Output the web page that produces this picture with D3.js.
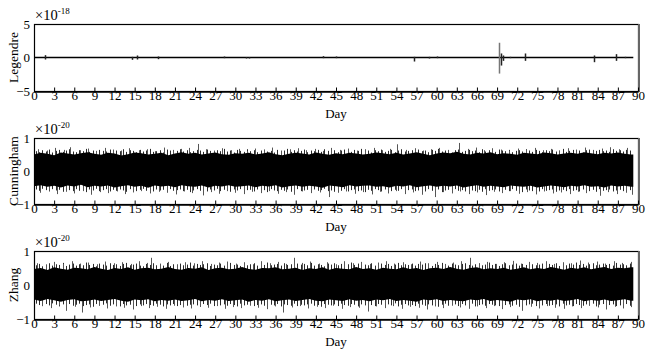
<!DOCTYPE html>
<html>
<head>
<meta charset="utf-8">
<script src="https://cdn.jsdelivr.net/npm/d3@7"></script>
<style>
    body { margin: 0; background: #fff; }
    svg text { font-family: "Liberation Serif", "Times New Roman", serif; fill: #000; }
</style>
</head>
<body>
<div id="chart"></div>
<script>
// --- 1. DATA ---
const xTicks = d3.range(0, 91, 3);
const lastDay = 89.3;
const fringeStep = 0.5;   // fringe samples every half day, starting at 0.25

// Legendre: flat zero line with a few blips [day, high, low] (x 1e-18)
const legendreEvents = [
    [1.7, 0.35, -0.3], [14.6, 0.1, -0.35], [15.3, 0.3, -0.3], [18.5, 0.15, -0.25],
    [28.3, 0.15, -0.1], [31.6, 0.05, -0.15], [32.1, 0.05, -0.15], [43.0, 0.2, -0.1],
    [45.0, 0.15, -0.1], [56.6, 0.1, -0.6], [58.8, 0.1, -0.15], [60.0, 0.15, -0.1],
    [69.3, 2.2, -2.4], [69.6, 0.6, -1.2], [69.9, 0.3, -0.5], [70.9, 0.1, -0.1],
    [73.2, 0.6, -0.5], [83.4, 0.3, -0.7], [86.7, 0.5, -0.5], [88.1, 0.1, -0.1]
];

// Cunningham: daily envelope of the noise band (x 1e-20)
const cunUpper = [0.50,0.55,0.52,0.48,0.56,0.53,0.50,0.54,0.57,0.52,
    0.49,0.55,0.53,0.47,0.51,0.56,0.54,0.50,0.52,0.55,
    0.48,0.53,0.57,0.52,0.55,0.50,0.53,0.56,0.51,0.49,
    0.54,0.52,0.55,0.50,0.53,0.57,0.51,0.48,0.52,0.55,
    0.53,0.50,0.56,0.52,0.49,0.54,0.51,0.55,0.53,0.50,
    0.52,0.56,0.54,0.51,0.55,0.50,0.53,0.57,0.52,0.48,
    0.53,0.56,0.54,0.58,0.52,0.50,0.55,0.53,0.57,0.51,
    0.54,0.52,0.49,0.55,0.53,0.51,0.56,0.54,0.50,0.53,
    0.55,0.52,0.57,0.54,0.51,0.55,0.53,0.56,0.52,0.50];
const cunLower = [-0.46,-0.43,-0.48,-0.45,-0.50,-0.44,-0.47,-0.42,-0.49,-0.45,
    -0.47,-0.44,-0.50,-0.46,-0.43,-0.48,-0.45,-0.51,-0.44,-0.47,
    -0.45,-0.49,-0.43,-0.46,-0.48,-0.44,-0.50,-0.45,-0.47,-0.43,
    -0.48,-0.46,-0.44,-0.49,-0.45,-0.47,-0.43,-0.50,-0.46,-0.44,
    -0.48,-0.45,-0.47,-0.51,-0.44,-0.46,-0.49,-0.43,-0.47,-0.45,
    -0.44,-0.48,-0.46,-0.50,-0.45,-0.47,-0.43,-0.49,-0.46,-0.44,
    -0.48,-0.45,-0.47,-0.44,-0.50,-0.46,-0.43,-0.48,-0.45,-0.47,
    -0.49,-0.44,-0.46,-0.48,-0.45,-0.50,-0.47,-0.44,-0.46,-0.49,
    -0.45,-0.47,-0.43,-0.48,-0.46,-0.50,-0.44,-0.47,-0.45,-0.48];
const cunFringeUp = [0.60,0.57,0.63,0.59,0.65,0.56,0.61,0.64,0.58,0.62,
    0.66,0.59,0.57,0.63,0.60,0.67,0.58,0.62,0.56,0.64,
    0.61,0.59,0.65,0.57,0.62,0.60,0.66,0.58,0.63,0.61,
    0.57,0.64,0.59,0.62,0.67,0.58,0.60,0.63,0.56,0.65,
    0.62,0.58,0.61,0.66,0.59,0.63,0.57,0.60,0.64,0.62,
    0.58,0.65,0.61,0.57,0.63,0.60,0.67,0.59,0.62,0.56,
    0.64,0.61,0.58,0.66,0.60,0.63,0.57,0.62,0.65,0.59,
    0.61,0.56,0.64,0.60,0.62,0.67,0.58,0.63,0.59,0.61,
    0.65,0.57,0.62,0.60,0.64,0.58,0.66,0.61,0.59,0.63,
    0.57,0.62,0.65,0.60,0.58,0.64,0.61,0.67,0.59,0.62,
    0.56,0.63,0.60,0.65,0.58,0.61,0.64,0.57,0.62,0.66,
    0.59,0.61,0.63,0.58,0.65,0.60,0.62,0.57,0.64,0.61,
    0.67,0.59,0.62,0.60,0.56,0.63,0.65,0.58,0.61,0.64,
    0.60,0.62,0.57,0.66,0.59,0.63,0.61,0.58,0.65,0.62,
    0.60,0.64,0.57,0.61,0.63,0.59,0.66,0.62,0.58,0.64,
    0.61,0.57,0.63,0.60,0.65,0.59,0.62,0.67,0.58,0.61,
    0.64,0.60,0.62,0.56,0.63,0.65,0.59,0.61,0.64,0.60,
    0.62,0.58,0.66,0.61,0.63,0.59,0.64,0.62];
const cunFringeDown = [-0.56,-0.60,-0.54,-0.58,-0.62,-0.55,-0.59,-0.57,-0.63,-0.56,
    -0.58,-0.61,-0.55,-0.60,-0.57,-0.64,-0.56,-0.59,-0.54,-0.61,
    -0.58,-0.55,-0.62,-0.57,-0.60,-0.56,-0.59,-0.63,-0.55,-0.58,
    -0.61,-0.57,-0.54,-0.60,-0.58,-0.62,-0.56,-0.59,-0.57,-0.63,
    -0.55,-0.60,-0.58,-0.56,-0.61,-0.57,-0.64,-0.59,-0.55,-0.60,
    -0.58,-0.62,-0.56,-0.59,-0.54,-0.61,-0.57,-0.60,-0.63,-0.56,
    -0.59,-0.55,-0.61,-0.58,-0.57,-0.62,-0.56,-0.60,-0.58,-0.64,
    -0.55,-0.59,-0.61,-0.57,-0.60,-0.56,-0.63,-0.58,-0.55,-0.61,
    -0.59,-0.57,-0.62,-0.56,-0.60,-0.58,-0.54,-0.61,-0.59,-0.63,
    -0.57,-0.60,-0.55,-0.62,-0.58,-0.56,-0.61,-0.59,-0.64,-0.57,
    -0.60,-0.55,-0.58,-0.62,-0.56,-0.59,-0.61,-0.57,-0.60,-0.55,
    -0.63,-0.58,-0.56,-0.61,-0.59,-0.57,-0.62,-0.55,-0.60,-0.58,
    -0.56,-0.64,-0.59,-0.57,-0.61,-0.55,-0.60,-0.58,-0.62,-0.56,
    -0.59,-0.61,-0.57,-0.63,-0.55,-0.60,-0.58,-0.56,-0.62,-0.59,
    -0.57,-0.61,-0.55,-0.60,-0.58,-0.64,-0.56,-0.59,-0.61,-0.57,
    -0.62,-0.55,-0.60,-0.58,-0.56,-0.63,-0.59,-0.57,-0.61,-0.55,
    -0.60,-0.58,-0.62,-0.56,-0.59,-0.61,-0.57,-0.63,-0.55,-0.60,
    -0.58,-0.56,-0.62,-0.59,-0.57,-0.61,-0.60,-0.58];
const cunSpikes = [
    [0.6,0.66],[1.9,0.62],[3.2,0.70],[4.5,0.64],[5.4,0.72],[6.8,0.63],[8.1,0.68],[9.3,0.61],
    [10.6,0.70],[11.8,0.65],[13.0,0.62],[14.2,0.69],[15.6,0.63],[16.9,0.66],[18.1,0.60],[19.4,0.71],
    [20.7,0.64],[21.9,0.67],[23.1,0.70],[24.4,0.82],[25.6,0.66],[26.8,0.62],[28.0,0.69],[29.3,0.63],
    [30.5,0.67],[31.8,0.60],[33.0,0.68],[34.3,0.64],[35.5,0.71],[36.8,0.62],[38.1,0.66],[39.3,0.69],
    [40.6,0.63],[41.8,0.67],[43.1,0.61],[44.3,0.70],[45.6,0.64],[46.8,0.68],[48.1,0.62],[49.3,0.66],
    [50.6,0.70],[51.8,0.63],[53.0,0.67],[54.1,0.81],[55.4,0.64],[56.7,0.69],[57.9,0.62],[59.2,0.66],
    [60.4,0.70],[61.7,0.64],[63.3,0.85],[64.6,0.67],[65.8,0.71],[67.1,0.63],[68.3,0.69],[69.6,0.65],
    [70.8,0.62],[72.1,0.68],[73.3,0.64],[74.6,0.70],[75.8,0.63],[77.1,0.67],[78.3,0.61],[79.6,0.69],
    [80.8,0.65],[82.1,0.71],[83.3,0.64],[84.6,0.68],[85.8,0.72],[87.1,0.66],[88.4,0.70],
    [0.9,-0.66],[2.2,-0.60],[3.5,-0.70],[4.7,-0.63],[6.0,-0.68],[7.3,-0.61],[8.5,-0.72],[9.8,-0.64],
    [11.0,-0.67],[12.3,-0.62],[13.5,-0.70],[14.8,-0.65],[16.0,-0.61],[17.3,-0.68],[18.6,-0.63],[19.8,-0.66],
    [21.1,-0.71],[22.3,-0.62],[23.6,-0.67],[25.2,-0.74],[26.3,-0.64],[27.5,-0.69],[28.8,-0.61],[30.0,-0.66],
    [31.3,-0.70],[32.5,-0.63],[33.8,-0.67],[35.0,-0.61],[36.3,-0.69],[37.5,-0.64],[38.8,-0.72],[40.0,-0.62],
    [41.3,-0.67],[42.6,-0.65],[44.0,-0.79],[45.3,-0.66],[46.5,-0.62],[47.8,-0.69],[49.0,-0.64],[50.3,-0.71],
    [51.5,-0.63],[52.8,-0.68],[54.0,-0.61],[55.3,-0.70],[56.5,-0.65],[57.8,-0.72],[59.8,-0.79],[61.0,-0.64],
    [62.3,-0.68],[63.5,-0.62],[64.8,-0.70],[66.0,-0.65],[67.3,-0.73],[68.5,-0.63],[69.8,-0.67],[71.0,-0.61],
    [72.3,-0.69],[73.5,-0.64],[74.8,-0.71],[76.0,-0.62],[77.3,-0.68],[78.5,-0.65],[79.8,-0.70],[81.0,-0.63],
    [82.3,-0.67],[84.4,-0.75],[85.6,-0.64],[86.9,-0.70],[88.2,-0.66],[89.1,-0.72]
];

// Zhang: daily envelope of the noise band (x 1e-20)
const zhangUpper = [0.47,0.50,0.44,0.52,0.48,0.45,0.51,0.49,0.46,0.53,
    0.48,0.44,0.50,0.47,0.52,0.45,0.49,0.51,0.46,0.48,
    0.53,0.47,0.45,0.50,0.48,0.52,0.44,0.49,0.51,0.46,
    0.48,0.53,0.47,0.45,0.50,0.49,0.52,0.46,0.48,0.51,
    0.44,0.49,0.47,0.52,0.45,0.50,0.48,0.46,0.53,0.47,
    0.49,0.45,0.51,0.48,0.46,0.52,0.47,0.50,0.44,0.49,
    0.51,0.47,0.53,0.48,0.45,0.50,0.52,0.46,0.49,0.47,
    0.51,0.45,0.48,0.52,0.46,0.50,0.47,0.53,0.49,0.45,
    0.51,0.48,0.52,0.46,0.50,0.53,0.47,0.51,0.49,0.52];
const zhangLower = [-0.43,-0.47,-0.41,-0.45,-0.49,-0.44,-0.42,-0.48,-0.46,-0.43,
    -0.47,-0.44,-0.41,-0.46,-0.49,-0.43,-0.45,-0.42,-0.48,-0.44,
    -0.46,-0.43,-0.47,-0.45,-0.41,-0.48,-0.44,-0.46,-0.42,-0.47,
    -0.45,-0.43,-0.49,-0.44,-0.46,-0.42,-0.48,-0.45,-0.43,-0.47,
    -0.44,-0.41,-0.46,-0.48,-0.43,-0.45,-0.47,-0.42,-0.46,-0.44,
    -0.48,-0.43,-0.45,-0.41,-0.47,-0.44,-0.46,-0.49,-0.43,-0.45,
    -0.42,-0.47,-0.44,-0.46,-0.48,-0.43,-0.45,-0.41,-0.47,-0.44,
    -0.46,-0.49,-0.43,-0.45,-0.42,-0.48,-0.44,-0.46,-0.43,-0.47,
    -0.45,-0.41,-0.48,-0.44,-0.46,-0.43,-0.47,-0.45,-0.42,-0.46];
const zhangFringeUp = [0.58,0.62,0.55,0.60,0.64,0.57,0.61,0.59,0.65,0.56,
    0.60,0.63,0.57,0.61,0.58,0.66,0.59,0.62,0.55,0.63,
    0.60,0.57,0.64,0.59,0.61,0.56,0.62,0.65,0.58,0.60,
    0.63,0.57,0.55,0.62,0.59,0.64,0.58,0.61,0.57,0.65,
    0.56,0.61,0.59,0.63,0.58,0.60,0.66,0.57,0.62,0.59,
    0.61,0.64,0.56,0.60,0.58,0.63,0.57,0.62,0.65,0.59,
    0.60,0.56,0.63,0.58,0.61,0.64,0.57,0.62,0.59,0.66,
    0.58,0.60,0.62,0.57,0.64,0.59,0.61,0.56,0.63,0.60,
    0.62,0.58,0.65,0.57,0.61,0.59,0.55,0.63,0.60,0.64,
    0.58,0.62,0.57,0.61,0.66,0.59,0.63,0.56,0.60,0.58,
    0.64,0.57,0.61,0.63,0.59,0.62,0.56,0.60,0.65,0.58,
    0.61,0.59,0.63,0.57,0.62,0.60,0.64,0.58,0.56,0.62,
    0.59,0.65,0.61,0.57,0.63,0.60,0.58,0.62,0.64,0.59,
    0.57,0.61,0.63,0.58,0.60,0.66,0.59,0.62,0.56,0.61,
    0.64,0.58,0.60,0.63,0.57,0.62,0.59,0.65,0.61,0.58,
    0.60,0.63,0.57,0.62,0.59,0.64,0.56,0.61,0.58,0.63,
    0.60,0.66,0.59,0.62,0.57,0.61,0.64,0.58,0.60,0.63,
    0.59,0.62,0.57,0.65,0.60,0.61,0.58,0.63];
const zhangFringeDown = [-0.55,-0.59,-0.62,-0.56,-0.60,-0.54,-0.58,-0.63,-0.57,-0.60,
    -0.56,-0.61,-0.58,-0.55,-0.62,-0.59,-0.57,-0.64,-0.56,-0.60,
    -0.58,-0.54,-0.61,-0.57,-0.59,-0.63,-0.56,-0.60,-0.58,-0.55,
    -0.62,-0.57,-0.60,-0.56,-0.59,-0.61,-0.55,-0.58,-0.63,-0.57,
    -0.60,-0.56,-0.62,-0.59,-0.54,-0.61,-0.58,-0.57,-0.60,-0.64,
    -0.56,-0.59,-0.55,-0.62,-0.58,-0.60,-0.57,-0.61,-0.56,-0.59,
    -0.63,-0.55,-0.60,-0.58,-0.56,-0.62,-0.59,-0.57,-0.61,-0.54,
    -0.58,-0.60,-0.56,-0.63,-0.57,-0.59,-0.61,-0.55,-0.62,-0.58,
    -0.60,-0.57,-0.55,-0.61,-0.59,-0.64,-0.56,-0.58,-0.60,-0.57,
    -0.62,-0.55,-0.59,-0.61,-0.56,-0.58,-0.63,-0.57,-0.60,-0.55,
    -0.59,-0.62,-0.56,-0.58,-0.61,-0.57,-0.60,-0.54,-0.63,-0.58,
    -0.56,-0.60,-0.59,-0.62,-0.55,-0.58,-0.61,-0.57,-0.60,-0.56,
    -0.64,-0.58,-0.55,-0.61,-0.59,-0.57,-0.62,-0.56,-0.60,-0.58,
    -0.55,-0.63,-0.59,-0.57,-0.61,-0.56,-0.58,-0.60,-0.62,-0.55,
    -0.59,-0.57,-0.61,-0.58,-0.64,-0.56,-0.60,-0.57,-0.55,-0.62,
    -0.58,-0.60,-0.56,-0.61,-0.59,-0.57,-0.63,-0.55,-0.60,-0.58,
    -0.62,-0.56,-0.59,-0.61,-0.57,-0.60,-0.55,-0.63,-0.58,-0.56,
    -0.61,-0.59,-0.57,-0.62,-0.60,-0.58,-0.56,-0.61];
const zhangSpikes = [
    [0.5,0.64],[1.8,0.60],[3.0,0.68],[4.3,0.62],[5.6,0.70],[6.8,0.63],[8.1,0.66],[9.4,0.61],
    [10.6,0.69],[11.9,0.64],[13.1,0.67],[14.4,0.62],[15.7,0.70],[16.9,0.65],[17.5,0.80],[18.8,0.63],
    [20.0,0.68],[21.3,0.61],[22.5,0.67],[23.8,0.64],[25.0,0.70],[26.3,0.62],[27.6,0.66],[28.8,0.69],
    [30.1,0.63],[31.3,0.67],[32.6,0.61],[33.8,0.70],[35.1,0.64],[36.3,0.68],[37.6,0.62],[38.7,0.80],
    [40.0,0.65],[41.2,0.69],[42.5,0.63],[43.7,0.67],[45.0,0.61],[46.2,0.70],[47.5,0.64],[48.7,0.68],
    [50.0,0.62],[51.2,0.66],[52.5,0.70],[53.7,0.63],[55.0,0.67],[56.2,0.61],[57.5,0.69],[58.7,0.64],
    [60.0,0.68],[61.2,0.62],[62.5,0.66],[63.7,0.70],[65.0,0.80],[66.3,0.64],[67.5,0.68],[68.8,0.62],
    [70.0,0.67],[71.3,0.71],[72.5,0.63],[73.8,0.68],[75.0,0.65],[76.3,0.70],[77.5,0.62],[78.8,0.67],
    [80.0,0.64],[81.4,0.72],[82.6,0.66],[83.9,0.69],[85.1,0.63],[86.4,0.70],[87.6,0.65],[88.9,0.68],
    [1.2,-0.62],[2.5,-0.68],[3.7,-0.60],[4.8,-0.76],[6.1,-0.64],[7.1,-0.81],[8.4,-0.66],[9.7,-0.61],
    [10.9,-0.69],[12.2,-0.63],[13.4,-0.67],[14.7,-0.72],[15.9,-0.62],[17.2,-0.68],[18.4,-0.64],[19.7,-0.70],
    [20.9,-0.61],[22.2,-0.66],[23.4,-0.69],[24.7,-0.63],[25.9,-0.67],[27.2,-0.62],[28.4,-0.70],[29.7,-0.65],
    [30.9,-0.68],[32.2,-0.61],[33.4,-0.67],[34.7,-0.71],[35.9,-0.63],[37.1,-0.81],[38.4,-0.66],[39.6,-0.62],
    [40.9,-0.69],[42.1,-0.64],[43.4,-0.68],[44.6,-0.61],[45.9,-0.70],[47.1,-0.65],[48.4,-0.67],[49.8,-0.78],
    [51.0,-0.63],[52.3,-0.68],[53.5,-0.62],[54.8,-0.70],[56.0,-0.64],[57.3,-0.67],[58.5,-0.72],[59.8,-0.63],
    [61.0,-0.68],[62.3,-0.61],[63.5,-0.66],[64.8,-0.70],[66.0,-0.63],[67.3,-0.68],[68.5,-0.62],[69.8,-0.71],
    [71.0,-0.65],[72.7,-0.76],[74.0,-0.64],[75.2,-0.69],[76.5,-0.62],[77.7,-0.67],[79.0,-0.70],[80.2,-0.63],
    [81.5,-0.68],[82.7,-0.61],[84.0,-0.66],[85.2,-0.72],[86.5,-0.64],[87.7,-0.69],[88.9,-0.65]
];

const panels = [
    { label: "Legendre", exp: "-18", yTicks: [-5, 0, 5], domain: [-5, 5], top: 24, bottom: 91 },
    { label: "Cunningham", exp: "-20", yTicks: [-1, 0, 1], domain: [-1, 1], top: 138, bottom: 204,
      upper: cunUpper, lower: cunLower, fringe: [cunFringeUp, cunFringeDown], spikes: cunSpikes },
    { label: "Zhang", exp: "-20", yTicks: [-1, 0, 1], domain: [-1, 1], top: 251, bottom: 319,
      upper: zhangUpper, lower: zhangLower, fringe: [zhangFringeUp, zhangFringeDown], spikes: zhangSpikes }
];

// --- 2. SETUP ---
const W = 662, H = 358;
const left = 34, right = 638;
const FONT = "'Liberation Serif', 'Times New Roman', serif";
const svg = d3.select("#chart").append("svg")
    .attr("width", W).attr("height", H)
    .attr("font-family", FONT);

const x = d3.scaleLinear().domain([0, 90]).range([left, right]);
const px = day => Math.round(x(day)) + 0.5;

// --- 3. PANELS ---
panels.forEach(p => {
    const y = d3.scaleLinear().domain(p.domain).range([p.bottom, p.top]);
    const g = svg.append("g");

    if (p.upper) {
        // fringe and spikes first so the solid body covers their roots
        const fringe = [];
        p.fringe.forEach(arr => arr.forEach((v, i) => fringe.push([0.25 + i * fringeStep, v])));
        g.selectAll("line.fringe")
            .data(fringe)
            .enter().append("line")
            .attr("class", "fringe")
            .attr("x1", d => px(d[0])).attr("x2", d => px(d[0]))
            .attr("y1", y(0)).attr("y2", d => y(d[1]))
            .attr("stroke", "#2a2a2a")
            .attr("stroke-width", 1);

        g.selectAll("line.spike")
            .data(p.spikes)
            .enter().append("line")
            .attr("class", "spike")
            .attr("x1", d => px(d[0])).attr("x2", d => px(d[0]))
            .attr("y1", y(0)).attr("y2", d => y(d[1]))
            .attr("stroke", "#555")
            .attr("stroke-width", 1);

        // band body, one sample per day, last value held to the end of the record
        const band = p.upper.map((u, i) => ({ day: i, hi: u, lo: p.lower[i] }));
        band.push({ day: lastDay, hi: p.upper[p.upper.length - 1], lo: p.lower[p.lower.length - 1] });
        g.append("path")
            .datum(band)
            .attr("fill", "#000")
            .attr("d", d3.area().x(d => x(d.day)).y0(d => y(d.lo)).y1(d => y(d.hi)));
    } else {
        g.append("line")
            .attr("x1", x(0)).attr("x2", x(lastDay))
            .attr("y1", y(0)).attr("y2", y(0))
            .attr("stroke", "#000").attr("stroke-width", 1.3);
        g.selectAll("line.blip")
            .data(legendreEvents)
            .enter().append("line")
            .attr("class", "blip")
            .attr("x1", d => px(d[0])).attr("x2", d => px(d[0]))
            .attr("y1", d => y(d[2]))
            .attr("y2", d => y(d[1]))
            .attr("stroke", d => Math.abs(d[1]) > 1 ? "#777" : "#222")
            .attr("stroke-width", 1.5);
    }

    // frame
    g.append("rect")
        .attr("x", left + 0.5).attr("y", p.top + 0.5)
        .attr("width", right - left).attr("height", p.bottom - p.top)
        .attr("fill", "none").attr("stroke", "#000").attr("stroke-width", 1.2);
    g.append("line")
        .attr("x1", right + 1).attr("x2", right + 1)
        .attr("y1", p.top).attr("y2", p.bottom + 1)
        .attr("stroke", "#666").attr("stroke-width", 2);

    // x axis: inward ticks
    const xAxis = d3.axisBottom(x).tickValues(xTicks).tickSizeInner(-4).tickSizeOuter(0).tickPadding(-1);
    const ax = g.append("g")
        .attr("transform", `translate(0, ${p.bottom + 0.5})`)
        .call(xAxis)
        .attr("font-family", FONT).attr("font-size", 13);
    ax.select(".domain").attr("stroke-width", 1.5);

    // y tick labels
    const yAxis = d3.axisLeft(y).tickValues(p.yTicks).tickFormat(d3.format("d")).tickSize(0).tickPadding(4);
    const ay = g.append("g")
        .attr("transform", `translate(${left}, 0)`)
        .call(yAxis)
        .attr("font-family", FONT).attr("font-size", 13);
    ay.select(".domain").remove();

    // axis titles
    g.append("text")
        .attr("x", (left + right) / 2)
        .attr("y", p.bottom + 27)
        .attr("text-anchor", "middle")
        .attr("font-size", 13)
        .text("Day");

    g.append("text")
        .attr("transform", `translate(18, ${(p.top + p.bottom) / 2}) rotate(-90)`)
        .attr("text-anchor", "middle")
        .attr("font-size", 13.5)
        .text(p.label);

    // exponent multiplier
    const mult = g.append("text")
        .attr("x", left + 1)
        .attr("y", p.top - 4)
        .attr("font-size", 14.5);
    mult.append("tspan").text("×10");
    mult.append("tspan").attr("dy", -6).attr("font-size", 9).text(p.exp);
});
</script>
</body>
</html>
